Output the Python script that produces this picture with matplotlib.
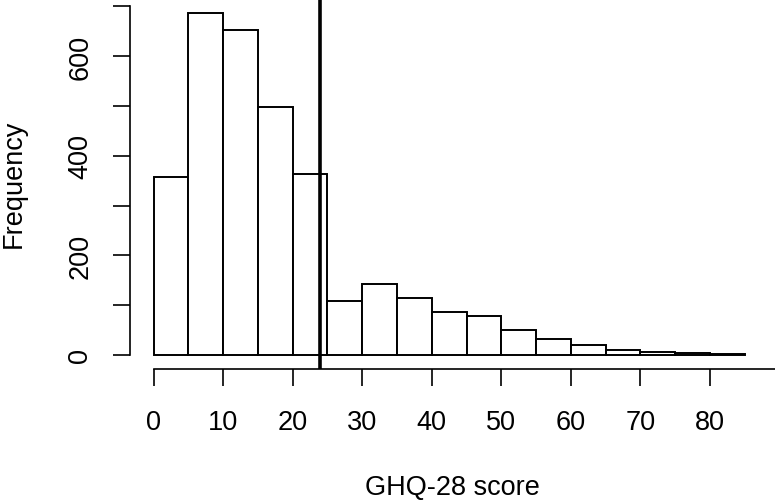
import matplotlib
matplotlib.use("Agg")
import matplotlib.pyplot as plt
import numpy as np

breaks = np.arange(0, 90, 5)
counts = [358, 687, 653, 497, 364, 108, 143, 114, 87, 78, 51, 33, 21, 11, 6, 4, 2]
cutoff = 24
xticks = [0, 10, 20, 30, 40, 50, 60, 70, 80, 90]
xlabels = ["0", "10", "20", "30", "40", "50", "60", "70", "80", ""]
yticks = [0, 100, 200, 300, 400, 500, 600, 700]
ylabels = ["0", "", "200", "", "400", "", "600", ""]

W, H = 775, 502
plt.rcParams['font.family'] = ['Liberation Sans', 'DejaVu Sans']
fig = plt.figure(figsize=(W / 100, H / 100), dpi=100)

# axes geometry in pixels
xpx = 566 / 80.0
ypx = 299 / 600.0
xlo, xhi = -3.4, 88.4
ylo, yhi = -27.5, 714.5
left = 154 - 3.4 * xpx
width = (xhi - xlo) * xpx
top = 356 - yhi * ypx
height = (yhi - ylo) * ypx
ax = fig.add_axes([left / W, 1 - (top + height) / H, width / W, height / H])
ax.set_xlim(xlo, xhi)
ax.set_ylim(ylo, yhi)

ax.bar(breaks[:-1], counts, width=5, align='edge', facecolor='white',
       edgecolor='black', linewidth=1.4)
ax.axvline(cutoff, color='black', linewidth=2.6, ymin=0, ymax=1)

for s in ['top', 'right']:
    ax.spines[s].set_visible(False)
ax.spines['left'].set_bounds(0, 700)
ax.spines['bottom'].set_bounds(0, 90)
for s in ['left', 'bottom']:
    ax.spines[s].set_linewidth(1.2)
    ax.spines[s].set_clip_on(False)

fs = 19.5
ax.set_xticks(xticks)
ax.set_xticklabels(xlabels)
ax.set_yticks(yticks)
ax.set_yticklabels(ylabels, rotation=90, va='center')
ax.tick_params(axis='both', length=12, width=1.2, labelsize=fs)
ax.tick_params(axis='x', pad=17)
ax.tick_params(axis='y', pad=14.5)
for t in ax.get_xticklines() + ax.get_yticklines():
    t.set_clip_on(False)

fig.text(452 / W, 1 - 495 / H, "GHQ-28 score", fontsize=fs, ha='center', va='baseline')
fig.text(27 / W, 1 - 183.5 / H, "Frequency", fontsize=fs, ha='right', va='center', rotation=90)

fig.savefig("out.png", dpi=100)
